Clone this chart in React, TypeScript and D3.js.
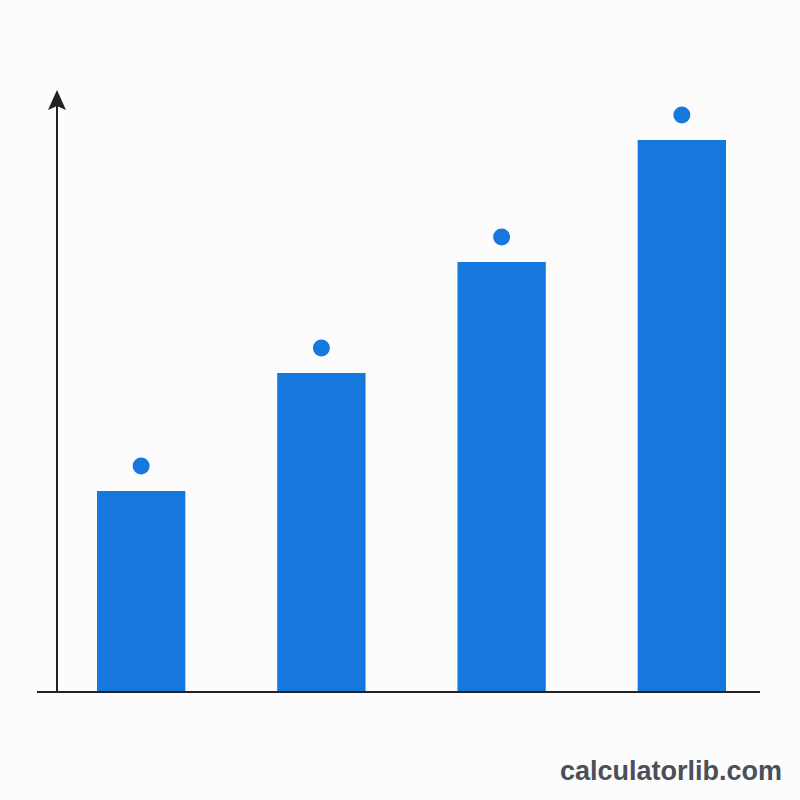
import { useRef, useEffect } from 'react';
import { select, scaleBand, scaleLinear } from 'd3';

// chart data
const categories = ['A', 'B', 'C', 'D'];
const values = [2.01, 3.19, 4.3, 5.52];

const WIDTH = 800;
const HEIGHT = 800;
const BLUE = '#1677dd';

const App = () => {
  const svgRef = useRef<SVGSVGElement | null>(null);

  useEffect(() => {
    const svg = select(svgRef.current);
    svg.selectAll('*').remove();

    const data = categories.map((name, i) => ({ name, value: values[i] }));

    const xScale = scaleBand()
      .domain(categories)
      .range([97, 726])
      .paddingInner(0.51)
      .paddingOuter(0);

    const yScale = scaleLinear().domain([0, 6]).range([692, 92]);

    svg
      .append('rect')
      .attr('width', WIDTH)
      .attr('height', HEIGHT)
      .attr('fill', '#fcfcfc');

    // bars
    svg
      .selectAll('.bar')
      .data(data)
      .join('rect')
      .attr('class', 'bar')
      .attr('x', (d) => xScale(d.name))
      .attr('y', (d) => yScale(d.value))
      .attr('width', xScale.bandwidth())
      .attr('height', (d) => yScale(0) - yScale(d.value))
      .attr('fill', BLUE);

    // dots above bars
    svg
      .selectAll('.dot')
      .data(data)
      .join('circle')
      .attr('class', 'dot')
      .attr('cx', (d) => xScale(d.name) + xScale.bandwidth() / 2)
      .attr('cy', (d) => yScale(d.value) - 25)
      .attr('r', 8.5)
      .attr('fill', BLUE);

    // y axis with arrow
    svg
      .append('line')
      .attr('x1', 57)
      .attr('x2', 57)
      .attr('y1', yScale(0) + 1)
      .attr('y2', 104)
      .attr('stroke', '#222')
      .attr('stroke-width', 2);
    svg
      .append('path')
      .attr('d', 'M57,90 L48,110 L57,106 L66,110 Z')
      .attr('fill', '#222');

    // x axis
    svg
      .append('line')
      .attr('x1', 37)
      .attr('x2', 760)
      .attr('y1', yScale(0))
      .attr('y2', yScale(0))
      .attr('stroke', '#222')
      .attr('stroke-width', 2);

    // watermark
    svg
      .append('text')
      .attr('x', 782)
      .attr('y', 780)
      .attr('text-anchor', 'end')
      .attr('font-family', '"Liberation Sans", Arial, sans-serif')
      .attr('font-weight', 'bold')
      .attr('font-size', 27)
      .attr('fill', '#4a4f5a')
      .text('calculatorlib.com');
  }, []);

  return (
    <svg
      ref={svgRef}
      width={WIDTH}
      height={HEIGHT}
      style={{ position: 'absolute', left: 0, top: 0 }}
    ></svg>
  );
};

export default App;
